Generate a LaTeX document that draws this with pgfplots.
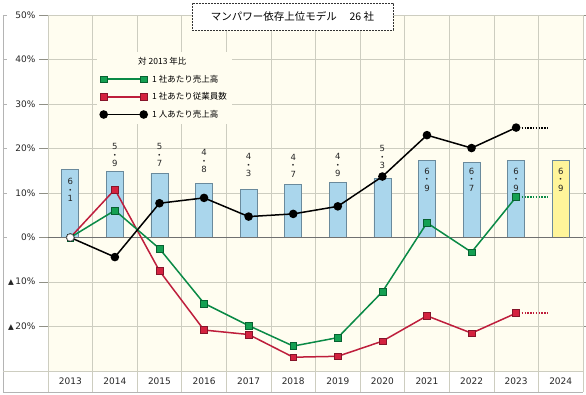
\documentclass[border=0pt]{standalone}
\usepackage{fontspec}
\setmainfont{DejaVu Sans}
\newfontfamily\cjk{Noto Sans CJK JP}
\usepackage{pgfplots}
\pgfplotsset{compat=1.18}
\definecolor{bgc}{HTML}{FFFDF0}
\definecolor{gridc}{HTML}{CDCDC0}
\definecolor{barblue}{HTML}{AAD6EC}
\definecolor{barborder}{HTML}{6A8A9C}
\definecolor{baryellow}{HTML}{FFF59A}
\definecolor{gline}{HTML}{0A8A46}
\definecolor{gfill}{HTML}{14A052}
\definecolor{rline}{HTML}{BE1E3C}
\definecolor{rfill}{HTML}{D4223F}
\definecolor{framec}{HTML}{B4B4B4}
\definecolor{zeroc}{HTML}{707070}
\protected\def\vlab#1#2{#1\\{\cjk ・}\\#2}
\pgfplotsset{
  gstyle/.style={gline, line width=1.5pt, mark=square*, mark size=3.4pt, mark options={solid, fill=gfill, draw=gline!70!black, line width=0.5pt}},
  rstyle/.style={rline, line width=1.5pt, mark=square*, mark size=3.4pt, mark options={solid, fill=rfill, draw=rline!70!black, line width=0.5pt}},
  kstyle/.style={black, line width=1.5pt, mark=*, mark size=3.5pt, mark options={solid, fill=black}},
}
\begin{document}
\begin{tikzpicture}
\useasboundingbox (-48pt,-24pt) rectangle (538pt,371pt);
\begin{axis}[
  at={(0pt,0pt)}, anchor=south west,
  scale only axis, width=535pt, height=356pt,
  xmin=-0.5, xmax=11.5, ymin=-30, ymax=50,
  axis background/.style={fill=bgc},
  axis line style={gridc, line width=0.6pt},
  xtick={0,...,11},
  xticklabels={2013,2014,2015,2016,2017,2018,2019,2020,2021,2022,2023,2024},
  minor xtick={-0.5,0.5,...,11.5},
  xminorgrids, minor grid style={gridc, line width=0.6pt},
  ytick={-20,-10,...,50},
  yticklabels={{{\fontsize{7.5}{7.5}\selectfont▲}\,20\%},{{\fontsize{7.5}{7.5}\selectfont▲}\,10\%},0\%,10\%,20\%,30\%,40\%,50\%},
  ymajorgrids, major grid style={gridc, line width=0.6pt},
  tick align=outside, major tick length=9pt, minor tick length=0pt,
  xtick style={draw=none}, ytick style={gridc!70!black, line width=0.6pt},
  tick label style={font=\fontsize{9}{10}\selectfont, text=black!85},
  xticklabel style={yshift=6pt},
  legend style={at={(0.0916,0.896)}, anchor=north west, draw=none, fill=bgc,
     font=\cjk\fontsize{8.5}{10}\selectfont, row sep=5pt, inner sep=3pt,
     /tikz/every odd column/.append style={column sep=3pt}},
  legend cell align=left,
  legend image code/.code={\draw[#1] plot coordinates {(0pt,0pt) (40pt,0pt)};},
]
% bars
\addplot[ybar, bar shift=0pt, bar width=17pt, fill=barblue, draw=barborder, line width=0.6pt, forget plot]
  coordinates {(0,15.3)(1,14.8)(2,14.4)(3,12.2)(4,10.8)(5,11.9)(6,12.4)(7,13.3)(8,17.3)(9,16.9)(10,17.3)};
\addplot[ybar, bar shift=0pt, bar width=17pt, fill=baryellow, draw=barborder, line width=0.6pt, forget plot]
  coordinates {(11,17.3)};
\draw[zeroc, line width=0.8pt] (axis cs:-0.5,0) -- (axis cs:11.5,0);
% bar labels above the bars (label centres)
\addplot[draw=none, mark=none, forget plot, point meta=explicit symbolic, nodes near coords,
  nodes near coords style={font=\fontsize{8.5}{8.5}\selectfont, align=center, anchor=center, inner sep=1pt, text=black!85}]
  coordinates {(1,18.5)[\vlab{5}{9}] (2,18.5)[\vlab{5}{7}] (3,17.1)[\vlab{4}{8}] (4,16.2)[\vlab{4}{3}]
               (5,16.2)[\vlab{4}{7}] (6,16.2)[\vlab{4}{9}] (7,18.0)[\vlab{5}{3}]};
% bar labels inside the bars
\addplot[draw=none, mark=none, forget plot, point meta=explicit symbolic, nodes near coords,
  nodes near coords style={font=\fontsize{8.5}{8.5}\selectfont, align=center, anchor=center, inner sep=1pt, text=black!85}]
  coordinates {(0,10.6)[\vlab{6}{1}] (8,13.0)[\vlab{6}{9}] (9,13.0)[\vlab{6}{7}] (10,13.0)[\vlab{6}{9}] (11,13.0)[\vlab{6}{9}]};
% dotted extensions
\addplot[gline, line width=2pt, dash pattern=on 1.4pt off 1.4pt, forget plot] coordinates {(10,9.1)(10.7,9.1)};
\addplot[rline, line width=2pt, dash pattern=on 1.4pt off 1.4pt, forget plot] coordinates {(10,-17.0)(10.7,-17.0)};
\addplot[black, line width=2pt, dash pattern=on 1.4pt off 1.4pt, forget plot] coordinates {(10,24.7)(10.7,24.7)};
% lines
\addplot[rstyle, forget plot] coordinates {(0,0)(1,10.8)(2,-7.5)(3,-20.8)(4,-21.8)(5,-26.9)(6,-26.7)(7,-23.3)(8,-17.6)(9,-21.5)(10,-17.0)};
\addplot[gstyle, forget plot] coordinates {(0,0)(1,6.1)(2,-2.5)(3,-14.8)(4,-19.8)(5,-24.4)(6,-22.5)(7,-12.2)(8,3.3)(9,-3.3)(10,9.1)};
\addplot[kstyle, forget plot] coordinates {(0,0)(1,-4.4)(2,7.7)(3,8.9)(4,4.7)(5,5.3)(6,7.0)(7,13.7)(8,23.0)(9,20.1)(10,24.7)};
\addplot[only marks, mark=*, mark size=3.6pt, mark options={fill=white, draw=gray, line width=0.6pt}, forget plot] coordinates {(0,0)};
% legend
\addlegendimage{empty legend}\addlegendentry{\hspace*{-14pt}対 2013 年比}
\addlegendimage{gstyle}\addlegendentry{1 社あたり売上高}
\addlegendimage{rstyle}\addlegendentry{1 社あたり従業員数}
\addlegendimage{kstyle}\addlegendentry{1 人あたり売上高}
\end{axis}
% frame and category row
\draw[framec, line width=0.8pt] (-45pt,356pt) -- (-45pt,-21pt) -- (535pt,-21pt);
\draw[gridc, line width=0.6pt] (-45pt,0pt) -- (0pt,0pt);
\foreach \k in {0,...,12} \draw[gridc, line width=0.6pt] ({\k*44.5833pt},0pt) -- ++(0pt,-21pt);
\foreach \v in {0,1,2,3,4,5} \draw[framec, line width=0.6pt] (-45pt,{(\v*10+30)*4.45pt}) -- ++(4pt,0pt);
% title
\node[draw=black!80, dash pattern=on 2pt off 1pt, fill=white, minimum width=201pt, minimum height=27pt, inner sep=0pt,
  font=\cjk\fontsize{10.5}{12}\selectfont] at (244.5pt,354.5pt) {マンパワー依存上位モデル\hspace{1.2em}26 社};
\end{tikzpicture}
\end{document}
